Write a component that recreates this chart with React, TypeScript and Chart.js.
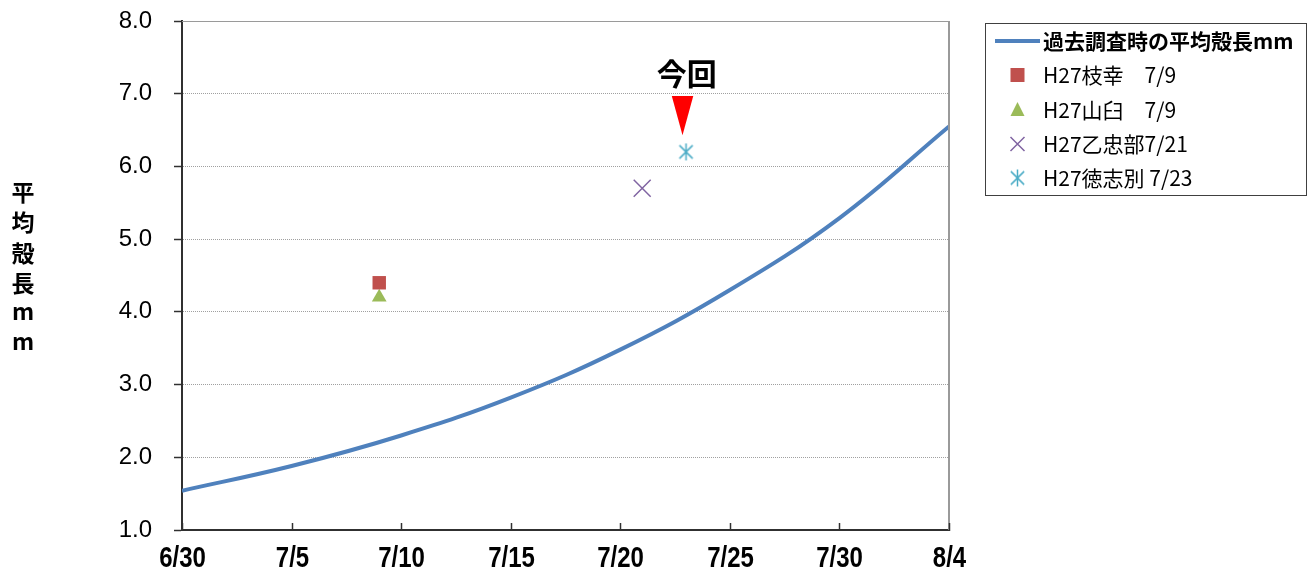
import React, { useEffect, useRef } from 'react';
import { Chart, registerables } from 'chart.js';

Chart.register(...registerables);

// ---- data ----
const tickLabels = ['6/30', '7/5', '7/10', '7/15', '7/20', '7/25', '7/30', '8/4'];
const curveLabel = '過去調査時の平均殻長mm';
const curveDays = [0, 5, 10, 15, 20, 25, 30, 35];
const curveValues = [1.54, 1.88, 2.3, 2.82, 3.48, 4.3, 5.29, 6.55];

const siteLabels = ['H27枝幸　7/9', 'H27山臼　7/9', 'H27乙忠部7/21', 'H27徳志別 7/23'];
const siteDays = [9, 9, 21, 23];
const siteValues = [4.4, 4.2, 5.7, 6.2];

const yTitle = ['平', '均', '殻', '長', 'm', 'm'];
const noteText = '今回';
const noteX = 23.03;
const noteY = 7.28;
const arrowX = 22.84;
const arrowTopY = 6.97;
const arrowTipY = 6.43;
const arrowHalfDays = 0.49;

// ---- style ----
const LINE_COLOR = '#4F81BD';
const SITE_COLORS = ['#C0504D', '#9BBB59', '#8064A2', '#4BACC6'];
const CJK = '"Noto Sans CJK JP", "Noto Sans", sans-serif';

function makeStar(size: number, color: string, lw: number) {
  const c = document.createElement('canvas');
  c.width = size;
  c.height = size;
  const g = c.getContext('2d')!;
  g.strokeStyle = color;
  g.lineWidth = lw;
  const m = size / 2;
  const r = size / 2 - 1;
  const d = r * 0.78;
  g.beginPath();
  g.moveTo(m, m - r);
  g.lineTo(m, m + r);
  g.moveTo(m - d, m - d);
  g.lineTo(m + d, m + d);
  g.moveTo(m + d, m - d);
  g.lineTo(m - d, m + d);
  g.stroke();
  return c;
}

export default function App() {
  const ref = useRef<HTMLCanvasElement | null>(null);

  useEffect(() => {
    document.body.style.margin = '0';
    const canvas = ref.current!;
    const star = makeStar(19, SITE_COLORS[3], 1.5);

    const decor = {
      id: 'decor',
      afterDraw(chart: any) {
        const { ctx, chartArea, scales } = chart;
        const xs = scales.x;
        const ys = scales.y;
        ctx.save();
        // top & right frame
        ctx.strokeStyle = '#9a9a9a';
        ctx.lineWidth = 1;
        ctx.beginPath();
        ctx.moveTo(chartArea.left, chartArea.top + 0.5);
        ctx.lineTo(chartArea.right, chartArea.top + 0.5);
        ctx.stroke();
        ctx.lineWidth = 2;
        ctx.beginPath();
        ctx.moveTo(chartArea.right, chartArea.top);
        ctx.lineTo(chartArea.right, chartArea.bottom);
        ctx.stroke();
        // inward x ticks + condensed x tick labels
        ctx.strokeStyle = '#303030';
        ctx.lineWidth = 1.5;
        ctx.fillStyle = '#000';
        ctx.font = 'bold 30px "Liberation Sans", Arial, sans-serif';
        ctx.textAlign = 'center';
        ctx.textBaseline = 'middle';
        xs.ticks.forEach((t: any, i: number) => {
          const px = Math.round(xs.getPixelForValue(t.value)) + 0.5;
          ctx.beginPath();
          ctx.moveTo(px, chartArea.bottom - 7);
          ctx.lineTo(px, chartArea.bottom + 1);
          ctx.stroke();
          ctx.save();
          ctx.translate(px, chartArea.bottom + 29);
          ctx.scale(0.8, 1);
          ctx.fillText(tickLabels[i], 0, 0);
          ctx.restore();
        });
        // y title, stacked characters
        ctx.fillStyle = '#000';
        ctx.font = `bold 23px ${CJK}`;
        ctx.textAlign = 'center';
        ctx.textBaseline = 'middle';
        yTitle.forEach((ch, i) => {
          const y = 192 + i * 30.5 + (ch === 'm' ? -3 : 0);
          ctx.fillText(ch, 23, y);
        });
        // annotation arrow + text
        const ax = xs.getPixelForValue(arrowX);
        const hw = xs.getPixelForValue(arrowX + arrowHalfDays) - ax;
        const at = ys.getPixelForValue(arrowTopY);
        const ab = ys.getPixelForValue(arrowTipY);
        ctx.fillStyle = '#FF0000';
        ctx.beginPath();
        ctx.moveTo(ax - hw, at);
        ctx.lineTo(ax + hw, at);
        ctx.lineTo(ax, ab);
        ctx.closePath();
        ctx.fill();
        ctx.fillStyle = '#000';
        ctx.font = `bold 30px ${CJK}`;
        ctx.fillText(noteText, xs.getPixelForValue(noteX), ys.getPixelForValue(noteY));

        // legend
        const lx = 985, ly = 23, lw = 321, lh = 172;
        ctx.fillStyle = '#fff';
        ctx.fillRect(lx, ly, lw, lh);
        ctx.strokeStyle = '#404040';
        ctx.lineWidth = 1;
        ctx.strokeRect(lx + 0.5, ly + 0.5, lw, lh);
        const textX = 1043;
        const rows = [41, 75, 110, 144, 178];
        ctx.textAlign = 'left';
        ctx.textBaseline = 'middle';
        ctx.strokeStyle = LINE_COLOR;
        ctx.lineWidth = 4;
        ctx.beginPath();
        ctx.moveTo(995, rows[0]);
        ctx.lineTo(1040, rows[0]);
        ctx.stroke();
        ctx.fillStyle = '#000';
        ctx.font = `bold 21px ${CJK}`;
        ctx.fillText(curveLabel, textX, rows[0]);
        const mx = 1017.5;
        ctx.fillStyle = SITE_COLORS[0];
        ctx.fillRect(mx - 7, rows[1] - 7, 14, 14);
        ctx.fillStyle = SITE_COLORS[1];
        ctx.beginPath();
        ctx.moveTo(mx, rows[2] - 8);
        ctx.lineTo(mx + 7, rows[2] + 6);
        ctx.lineTo(mx - 7, rows[2] + 6);
        ctx.closePath();
        ctx.fill();
        ctx.strokeStyle = SITE_COLORS[2];
        ctx.lineWidth = 1.5;
        ctx.beginPath();
        ctx.moveTo(mx - 7, rows[3] - 7);
        ctx.lineTo(mx + 7, rows[3] + 7);
        ctx.moveTo(mx + 7, rows[3] - 7);
        ctx.lineTo(mx - 7, rows[3] + 7);
        ctx.stroke();
        ctx.drawImage(star, mx - 9.5, rows[4] - 9.5);
        ctx.fillStyle = '#000';
        ctx.font = `21px ${CJK}`;
        siteLabels.forEach((t, i) => ctx.fillText(t, textX, rows[i + 1]));
        ctx.restore();
      },
    };

    const siteStyles: any[] = [
      { pointStyle: 'rect', pointRadius: 9.5 },
      { pointStyle: 'triangle', pointRadius: 8.5 },
      { pointStyle: 'crossRot', pointRadius: 12, pointBorderWidth: 1.5 },
      { pointStyle: star, pointRadius: 9 },
    ];

    const chart = new Chart(canvas, {
      type: 'scatter',
      data: {
        datasets: [
          {
            type: 'line',
            label: curveLabel,
            data: curveDays.map((d, i) => ({ x: d, y: curveValues[i] })),
            borderColor: LINE_COLOR,
            backgroundColor: LINE_COLOR,
            borderWidth: 4,
            pointRadius: 0,
            tension: 0.4,
            fill: false,
          } as any,
          ...siteLabels.map((label, i) => ({
            label,
            data: [{ x: siteDays[i], y: siteValues[i] }],
            backgroundColor: SITE_COLORS[i],
            borderColor: SITE_COLORS[i],
            pointBorderWidth: 0,
            showLine: false,
            ...siteStyles[i],
          })),
        ],
      },
      options: {
        responsive: false,
        animation: false,
        layout: { padding: { top: 21, right: 367, left: 0, bottom: 0 } },
        plugins: { legend: { display: false }, tooltip: { enabled: false } },
        scales: {
          x: {
            type: 'linear',
            min: 0,
            max: 35,
            afterFit: (s: any) => {
              s.height = 48;
              s.paddingLeft = 0;
              s.paddingRight = 0;
            },
            ticks: {
              stepSize: 5,
              autoSkip: false,
              maxRotation: 0,
              display: false,
              callback: (_v: any, i: number) => tickLabels[i],
            },
            grid: { display: false },
            border: { display: true, color: '#303030', width: 2 },
          },
          y: {
            min: 1,
            max: 8,
            afterFit: (s: any) => {
              s.width = 182;
              s.paddingTop = 0;
              s.paddingBottom = 0;
            },
            ticks: {
              stepSize: 1,
              callback: (v: any) => Number(v).toFixed(1),
              color: '#000',
              padding: 22,
              font: { family: '"Liberation Sans", Arial, sans-serif', size: 24 },
            },
            grid: {
              color: '#a0a0a0',
              lineWidth: 1,
              tickLength: 8,
              tickColor: '#303030',
              tickWidth: 1.5,
              tickBorderDash: [],
            },
            border: { display: true, color: '#303030', width: 2, dash: [1, 1] },
          },
        },
      } as any,
      plugins: [decor],
    });
    return () => chart.destroy();
  }, []);

  return (
    <div style={{ position: 'fixed', left: 0, top: 0, width: 1316, height: 578 }}>
      <canvas ref={ref} width={1316} height={578} />
    </div>
  );
}
